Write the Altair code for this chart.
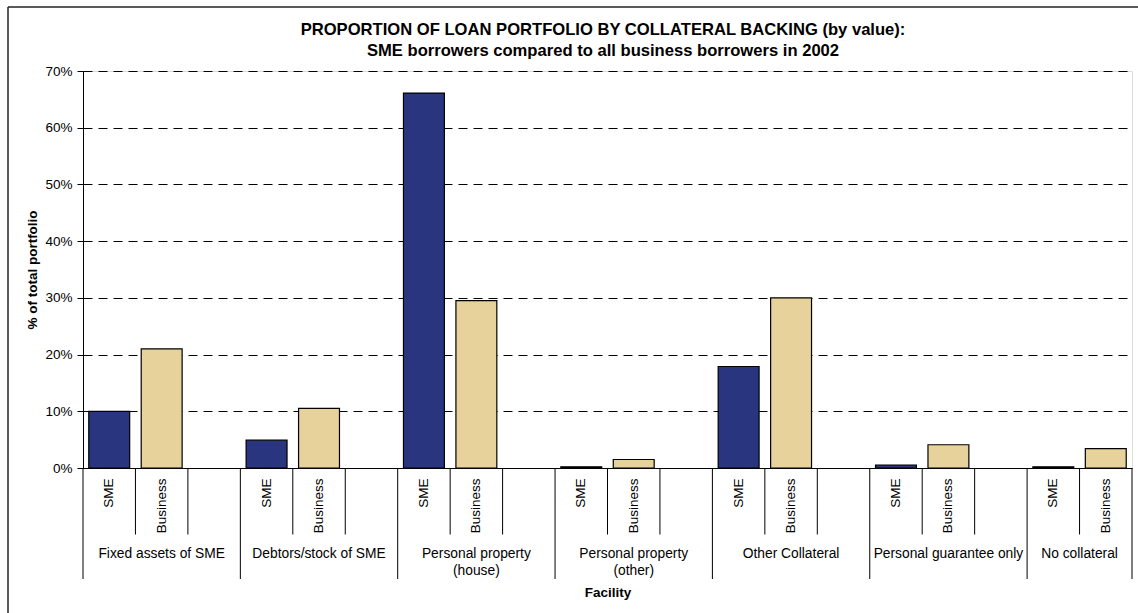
import altair as alt
import pandas as pd

# ---- data ----
groups = ["Fixed assets of SME", "Debtors/stock of SME", "Personal property\n(house)",
          "Personal property\n(other)", "Other Collateral", "Personal guarantee only", "No collateral"]
series = ["SME", "Business"]
sme_values = [10.0, 4.9, 66.1, 0.2, 17.9, 0.5, 0.2]          # % of total portfolio
business_values = [21.0, 10.5, 29.5, 1.5, 30.0, 4.1, 3.4]   # % of total portfolio
slots_per_group = [3, 3, 3, 3, 3, 3, 2]                     # SME, Business, (gap)
y_ticks_pct = [0, 10, 20, 30, 40, 50, 60, 70]
colors = ["#29357F", "#E7D29B"]

title_lines = ["PROPORTION OF LOAN PORTFOLIO BY COLLATERAL BACKING (by value):",
               "SME borrowers compared to all business borrowers in 2002"]
y_title = "% of total portfolio"
x_title = "Facility"

FONT = "Liberation Sans"
W, H = 1049, 397

# ---- build tables from the arrays ----
bar_rows, sub_labels, sub_ticks, group_lines, grp_mid3, grp_mid2 = [], [], [], [], [], []
slot = 0
for g, n, s_val, b_val in zip(groups, slots_per_group, sme_values, business_values):
    first = slot
    group_lines.append({"slot": first})
    for k in range(n):
        if k < len(series):
            val = [s_val, b_val][k]
            bar_rows.append({"slot": slot, "group": g, "series": series[k], "value": val / 100})
            sub_labels.append(series[k])
        else:
            sub_labels.append("")
        if k > 0:
            sub_ticks.append({"slot": slot})
        slot += 1
    if n % 2 == 1:
        grp_mid3.append({"slot": first + n // 2, "group": g})
    else:
        grp_mid2.append({"slot": first + n // 2, "group": g})
n_slots = slot

bars_df = pd.DataFrame(bar_rows)
sub_df = pd.DataFrame(sub_ticks)
grp_df = pd.DataFrame(group_lines)
end_df = pd.DataFrame([{"slot": n_slots - 1}])
mid3_df = pd.DataFrame(grp_mid3)
mid2_df = pd.DataFrame(grp_mid2)
title_df = pd.DataFrame([{"t": "\n".join(title_lines)}])

xscale = alt.Scale(domain=list(range(n_slots)), paddingInner=0, paddingOuter=0)
label_expr = "[" + ",".join("'" + s + "'" for s in sub_labels) + "][datum.value]"
x_axis = alt.Axis(labelExpr=label_expr, labelAngle=-90, labelAlign="right",
                  labelBaseline="middle", labelPadding=10, ticks=False, tickSize=0,
                  labelFontSize=13.5, labelFont=FONT, labelColor="black",
                  labelOverlap=False, labelBound=False, labelFlush=False,
                  domainColor="black", domainWidth=1, grid=False,
                  titleFont=FONT, titleFontSize=13.5, titleFontWeight="bold",
                  titleColor="black", titleY=124, titleBaseline="middle")


def xenc(bp):
    return alt.X("slot:O", scale=xscale, bandPosition=bp, title=x_title, axis=x_axis)


bars = alt.Chart(bars_df).mark_bar(
    width={"band": 0.78}, stroke="black", strokeWidth=1.2
).encode(
    x=xenc(0.5),
    y=alt.Y("value:Q", scale=alt.Scale(domain=[0, 0.7], nice=False), title=y_title,
            axis=alt.Axis(values=[v / 100 for v in y_ticks_pct], format=".0%",
                          grid=True, gridColor="black", gridDash=[9, 6], gridWidth=1,
                          domainColor="black", domainWidth=1, tickColor="black",
                          tickSize=6, labelPadding=5, labelFontSize=13.5, labelFont=FONT,
                          labelColor="black",
                          titleFont=FONT, titleFontSize=13.5, titleFontWeight="bold",
                          titleColor="black", titleX=-51, titleY=H / 2, titleAngle=-90,
                          titleAlign="center", titleBaseline="middle")),
    color=alt.Color("series:N", scale=alt.Scale(domain=series, range=colors), legend=None),
)

sub_rules = alt.Chart(sub_df).mark_rule(color="black", strokeWidth=1).encode(
    x=xenc(0), y=alt.value(H), y2=alt.value(H + 66.5),
)
grp_rules = alt.Chart(grp_df).mark_rule(color="black", strokeWidth=1).encode(
    x=xenc(0), y=alt.value(H), y2=alt.value(H + 111),
)
end_rule = alt.Chart(end_df).mark_rule(color="black", strokeWidth=1).encode(
    x=xenc(1), y=alt.value(H), y2=alt.value(H + 111),
)

txt_style = dict(font=FONT, fontSize=13.8, color="black", baseline="top",
                 align="center", lineBreak="\n", lineHeight=17)
grp_text3 = alt.Chart(mid3_df).mark_text(**txt_style).encode(
    x=xenc(0.5), y=alt.value(H + 78.5), text="group:N",
)
grp_text2 = alt.Chart(mid2_df).mark_text(**txt_style).encode(
    x=xenc(0), y=alt.value(H + 78.5), text="group:N",
)

title = alt.Chart(title_df).mark_text(
    font=FONT, fontSize=16.6, fontWeight="bold", color="black", baseline="top",
    align="center", lineBreak="\n", lineHeight=21.5
).encode(x=alt.value(520), y=alt.value(-49.5), text="t:N")

one = pd.DataFrame([{"k": 1}])
frame_top = alt.Chart(one).mark_rule(color="#222222", strokeWidth=1.5).encode(
    x=alt.value(-75), x2=alt.value(1060), y=alt.value(-64))
frame_left = alt.Chart(one).mark_rule(color="#222222", strokeWidth=1.5).encode(
    x=alt.value(-75), y=alt.value(-64), y2=alt.value(560))

chart = alt.layer(frame_top, frame_left, bars, sub_rules, grp_rules, end_rule,
                  grp_text3, grp_text2, title).properties(
    width=W, height=H,
    autosize=alt.AutoSizeParams(type="none"),
    padding={"left": 83, "top": 71, "right": 6, "bottom": 145},
).configure_view(strokeWidth=0).configure(background="white")

chart.save("out.html", embed_options={"renderer": "svg", "actions": False})
